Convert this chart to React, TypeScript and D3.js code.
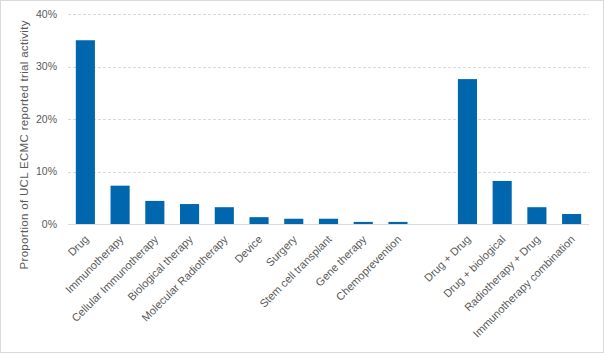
import React from "react";
import * as d3 from "d3";

const categories = [
  "Drug",
  "Immunotherapy",
  "Cellular Immunotherapy",
  "Biological therapy",
  "Molecular Radiotherapy",
  "Device",
  "Surgery",
  "Stem cell transplant",
  "Gene therapy",
  "Chemoprevention",
  "",
  "Drug + Drug",
  "Drug + biological",
  "Radiotherapy + Drug",
  "Immunotherapy combination",
];
const values = [35.0, 7.3, 4.4, 3.8, 3.2, 1.3, 1.0, 1.0, 0.4, 0.4, null, 27.6, 8.2, 3.2, 1.9];
const yTicks = [0, 10, 20, 30, 40];
const yTitle = "Proportion of UCL ECMC reported trial activity";

const W = 604;
const H = 353;
const margin = { left: 68, right: 15, top: 14, bottom: 129 };

export default function App() {
  const x = d3
    .scaleBand<number>()
    .domain(categories.map((_, i) => i))
    .range([margin.left, W - margin.right])
    .paddingInner(0.45)
    .paddingOuter(0.225);
  const y = d3.scaleLinear().domain([0, 40]).range([H - margin.bottom, margin.top]);
  const font = "'Liberation Sans', Arial, sans-serif";
  const textColor = "#595959";
  return (
    <svg
      width={W}
      height={H}
      style={{ position: "absolute", left: 0, top: 0, background: "#fff" }}
      fontFamily={font}
    >
      <rect x={0.5} y={0.5} width={W - 1} height={H - 1} fill="#fff" stroke="#d9d9d9" />
      {yTicks.map((t) => (
        <g key={t}>
          {t > 0 && (
            <line
              x1={margin.left}
              x2={W - margin.right}
              y1={Math.round(y(t)) + 0.5}
              y2={Math.round(y(t)) + 0.5}
              stroke="#d9d9d9"
              strokeDasharray="3,2"
            />
          )}
          <text
            x={57}
            y={y(t)}
            dy="0.35em"
            textAnchor="end"
            fontSize={10.5}
            fill={textColor}
          >
            {t}%
          </text>
        </g>
      ))}
      {values.map((v, i) =>
        v == null ? null : (
          <rect
            key={i}
            x={x(i)}
            width={x.bandwidth()}
            y={y(v)}
            height={y(0) - y(v)}
            fill="#0066AE"
          />
        )
      )}
      <line
        x1={margin.left}
        x2={W - margin.right}
        y1={Math.round(y(0)) + 0.5}
        y2={Math.round(y(0)) + 0.5}
        stroke="#d9d9d9"
      />
      {categories.map((c, i) => {
        const cx = (x(i) as number) + x.bandwidth() / 2;
        return (
          <text
            key={i}
            transform={`translate(${cx + 4},${y(0) + 16}) rotate(-45)`}
            textAnchor="end"
            fontSize={11}
            fill={textColor}
          >
            {c}
          </text>
        );
      })}
      <text
        transform={`translate(28,145) rotate(-90)`}
        textAnchor="middle"
        fontSize={11.5}
        fill={textColor}
        textLength={249}
        lengthAdjust="spacing"
      >
        {yTitle}
      </text>
    </svg>
  );
}
